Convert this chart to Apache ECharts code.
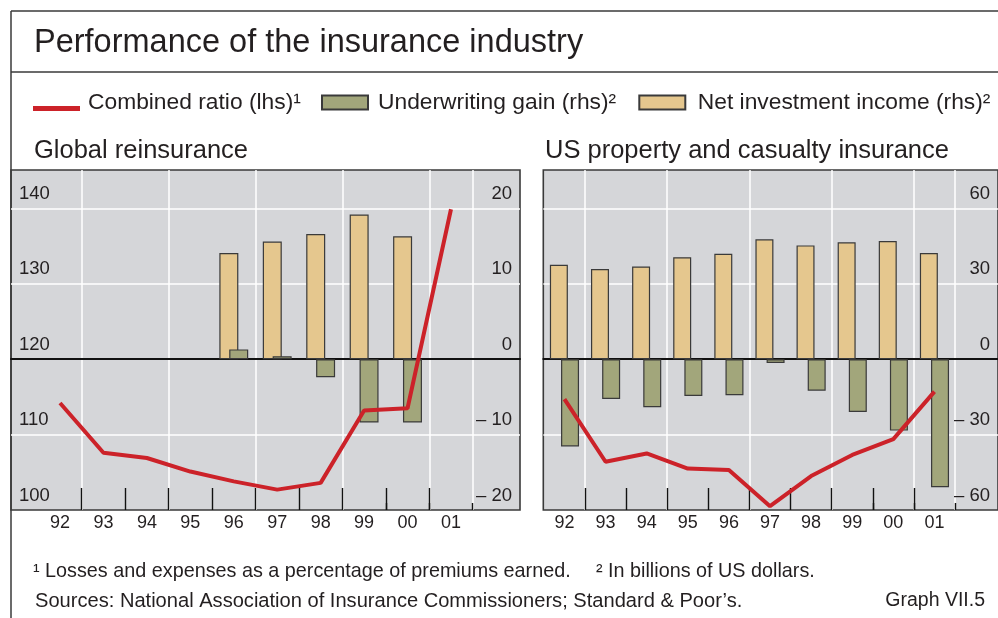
<!DOCTYPE html>
<html>
<head>
<meta charset="utf-8">
<script src="https://cdn.jsdelivr.net/npm/echarts@6/dist/echarts.min.js"></script>
<style>
html,body{margin:0;padding:0;background:#fff;}
#c{width:998px;height:618px;}
</style>
</head>
<body>
<div id="c"></div>
<script>
// ---------- data ----------
const years = ['92','93','94','95','96','97','98','99','00','01'];
const globalRatio = [114.2, 107.6, 106.9, 105.1, 103.8, 102.7, 103.6, 113.2, 113.5, 139.9];
const globalUW   = [null, null, null, null, 1.3, 0.4, -2.4, -8.4, -8.4, null];
const globalNII  = [null, null, null, null, 14.1, 15.6, 16.6, 19.2, 16.3, null];
const usRatio = [114.7, 106.4, 107.5, 105.5, 105.3, 100.5, 104.5, 107.3, 109.4, 115.7];
const usUW    = [-34.7, -15.8, -19.1, -14.6, -14.3, -1.5, -12.5, -21.0, -28.4, -50.9];
const usNII   = [37.6, 35.9, 36.9, 40.6, 42.0, 47.7, 45.3, 46.5, 47.0, 42.3];
const lhsTickValues = [100, 110, 120, 130, 140];
const lhsTickLabels = ['100', '110', '120', '130', '140'];
const globalRhsTickValues = [-20, -10, 0, 10, 20];
const globalRhsTickLabels = ['– 20', '– 10', '0', '10', '20'];
const usRhsTickValues = [-60, -30, 0, 30, 60];
const usRhsTickLabels = ['– 60', '– 30', '0', '30', '60'];

const NAME_RATIO = 'Combined ratio (lhs)¹';
const NAME_UW = 'Underwriting gain (rhs)²';
const NAME_NII = 'Net investment income (rhs)²';

// ---------- style ----------
const FONT = '"Liberation Sans", Arial, sans-serif';
const TXT = '#231f20';
const GRAY = '#d5d6d9';
const RED = '#cc2229';
const OLIVE = '#a2a67b';
const TAN = '#e5c78e';
const EDGE = '#3a3a3a';

function lookup(values, labels) {
  return function (v) {
    for (let i = 0; i < values.length; i++) {
      if (Math.abs(values[i] - v) < 1e-6) return labels[i];
    }
    return '';
  };
}

const TOP = 170, H = 340, TICK = 22;
const frameL = {left: 11, top: TOP, width: 509, height: H};
const dataL = {left: 38.3, top: TOP, width: 434.4, height: H};
const frameR = {left: 543.3, top: TOP, width: 457, height: H};
const dataR = {left: 543.9, top: TOP, width: 411.1, height: H};
const tickL = {left: dataL.left, width: dataL.width, top: TOP + H - TICK, height: TICK};
const tickR = {left: dataR.left, width: dataR.width, top: TOP + H - TICK, height: TICK};

const LHS_MAX = 145.1;

function frameGrid(g) {
  return Object.assign({show: true, backgroundColor: GRAY, borderColor: EDGE, borderWidth: 1.6, containLabel: false}, g);
}
function frameX(gi) {
  return {
    type: 'value', gridIndex: gi, min: 0, max: 1,
    axisLine: {show: true, onZero: true, lineStyle: {color: '#111', width: 2}},
    axisTick: {show: false}, axisLabel: {show: false}, splitLine: {show: false}
  };
}
function dataX(gi) {
  return {
    type: 'category', gridIndex: gi, data: years, boundaryGap: true,
    axisLine: {show: false, onZero: false},
    axisTick: {show: true, inside: true, length: 7, lineStyle: {color: '#111', width: 1.4},
               interval: function (i) { return i >= 8; }},
    splitLine: {show: true, interval: function (i) { return i % 2 === 1; },
                lineStyle: {color: '#ffffff', width: 1.5}},
    axisLabel: {margin: 4, fontSize: 18, color: TXT, fontFamily: FONT}
  };
}
function tickX(gi) {
  return {
    type: 'category', gridIndex: gi, data: years, boundaryGap: true,
    axisLine: {show: false, onZero: false}, axisTick: {show: false}, axisLabel: {show: false},
    splitLine: {show: true, showMinLine: false, showMaxLine: false, interval: 0,
                lineStyle: {color: '#111', width: 1.4}}
  };
}
function labelStyle(extra) {
  return Object.assign({inside: true, margin: 8, fontSize: 18.5, color: TXT, fontFamily: FONT,
    verticalAlign: 'bottom', padding: [0, 0, 5, 0]}, extra);
}

const option = {
  animation: false,
  textStyle: {fontFamily: FONT},
  title: [
    {text: 'Performance of the insurance industry', left: 34, top: 27, padding: 0,
     textStyle: {fontSize: 32.5, fontWeight: 'normal', color: TXT, fontFamily: FONT}},
    {text: 'Global reinsurance', left: 34, top: 137.5, padding: 0,
     textStyle: {fontSize: 25.5, fontWeight: 'normal', color: TXT, fontFamily: FONT}},
    {text: 'US property and casualty insurance', left: 545, top: 137.5, padding: 0,
     textStyle: {fontSize: 25.5, fontWeight: 'normal', color: TXT, fontFamily: FONT}},
    {text: '¹ Losses and expenses as a percentage of premiums earned.', left: 33, top: 562, padding: 0,
     textStyle: {fontSize: 19.8, fontWeight: 'normal', color: TXT, fontFamily: FONT}},
    {text: '² In billions of US dollars.', left: 596, top: 562, padding: 0,
     textStyle: {fontSize: 19.8, fontWeight: 'normal', color: TXT, fontFamily: FONT}},
    {text: 'Sources: National Association of Insurance Commissioners; Standard & Poor’s.', left: 35, top: 591, padding: 0,
     textStyle: {fontSize: 20.1, fontWeight: 'normal', color: TXT, fontFamily: FONT}},
    {text: 'Graph VII.5', right: 13, top: 591, padding: 0,
     textStyle: {fontSize: 19.5, fontWeight: 'normal', color: TXT, fontFamily: FONT}}
  ],
  legend: [
    {data: [{name: NAME_RATIO, icon: 'path://M0,0M0,11L47,11L47,16L0,16Z', itemStyle: {color: RED, borderWidth: 0}}],
     left: 33, top: 91.5, padding: 0, itemWidth: 47, itemHeight: 16, selectedMode: false,
     textStyle: {fontSize: 22.8, color: TXT, fontFamily: FONT, padding: [0, 0, 0, 3]}},
    {data: [{name: NAME_UW, icon: 'rect'}],
     left: 321, top: 91, padding: 0, itemWidth: 46, itemHeight: 14, selectedMode: false,
     textStyle: {fontSize: 22.8, color: TXT, fontFamily: FONT, padding: [0, 0, 0, 5]}},
    {data: [{name: NAME_NII, icon: 'rect'}],
     left: 638.3, top: 91, padding: 0, itemWidth: 46, itemHeight: 14, selectedMode: false,
     textStyle: {fontSize: 22.8, color: TXT, fontFamily: FONT, padding: [0, 0, 0, 7.5]}}
  ],
  graphic: [
    {type: 'line', shape: {x1: 11, y1: 11, x2: 998, y2: 11}, style: {stroke: EDGE, lineWidth: 1.5}},
    {type: 'line', shape: {x1: 11, y1: 72, x2: 998, y2: 72}, style: {stroke: EDGE, lineWidth: 1.5}},
    {type: 'line', shape: {x1: 11, y1: 11, x2: 11, y2: 618}, style: {stroke: EDGE, lineWidth: 1.5}}
  ],
  grid: [
    frameGrid(frameL), Object.assign({show: false}, dataL),
    frameGrid(frameR), Object.assign({show: false}, dataR),
    Object.assign({show: false}, tickL), Object.assign({show: false}, tickR)
  ],
  xAxis: [frameX(0), dataX(1), frameX(2), dataX(3), tickX(4), tickX(5)],
  yAxis: [
    // 0: global rhs (frame)
    {type: 'value', gridIndex: 0, position: 'right', min: -20, max: LHS_MAX - 120, interval: 10,
     axisLine: {show: false}, axisTick: {show: false}, splitLine: {show: false},
     axisLabel: labelStyle({formatter: lookup(globalRhsTickValues, globalRhsTickLabels)})},
    // 1: global lhs (frame)
    {type: 'value', gridIndex: 0, position: 'left', min: 100, max: LHS_MAX, interval: 10,
     axisLine: {show: false}, axisTick: {show: false},
     splitLine: {show: true, showMinLine: false, showMaxLine: false, lineStyle: {color: '#ffffff', width: 1.5}},
     axisLabel: labelStyle({formatter: lookup(lhsTickValues, lhsTickLabels)})},
    // 2: global lhs (data)
    {type: 'value', gridIndex: 1, show: false, min: 100, max: LHS_MAX, splitLine: {show: false}},
    // 3: global rhs (data)
    {type: 'value', gridIndex: 1, show: false, min: -20, max: LHS_MAX - 120, splitLine: {show: false}},
    // 4: US rhs (frame)
    {type: 'value', gridIndex: 2, position: 'right', min: -60, max: (LHS_MAX - 120) * 3, interval: 30,
     axisLine: {show: false}, axisTick: {show: false}, splitLine: {show: false},
     axisLabel: labelStyle({formatter: lookup(usRhsTickValues, usRhsTickLabels)})},
    // 5: US lhs (frame), labels hidden
    {type: 'value', gridIndex: 2, position: 'left', min: 100, max: LHS_MAX, interval: 10,
     axisLine: {show: false}, axisTick: {show: false}, axisLabel: {show: false},
     splitLine: {show: true, showMinLine: false, showMaxLine: false, lineStyle: {color: '#ffffff', width: 1.5}}},
    // 6: US lhs (data)
    {type: 'value', gridIndex: 3, show: false, min: 100, max: LHS_MAX, splitLine: {show: false}},
    // 7: US rhs (data)
    {type: 'value', gridIndex: 3, show: false, min: -60, max: (LHS_MAX - 120) * 3, splitLine: {show: false}},
    // 8, 9: tick-strip helpers
    {type: 'value', gridIndex: 4, show: false, splitLine: {show: false}},
    {type: 'value', gridIndex: 5, show: false, splitLine: {show: false}}
  ],
  series: [
    {name: NAME_NII, type: 'bar', xAxisIndex: 1, yAxisIndex: 3, data: globalNII,
     barWidth: 19, barGap: '-48%', itemStyle: {color: TAN, borderColor: EDGE, borderWidth: 1.2}},
    {name: NAME_UW, type: 'bar', xAxisIndex: 1, yAxisIndex: 3, data: globalUW,
     barWidth: 19, barGap: '-48%', itemStyle: {color: OLIVE, borderColor: EDGE, borderWidth: 1.2}},
    {name: NAME_RATIO, type: 'line', xAxisIndex: 1, yAxisIndex: 2, data: globalRatio, z: 5,
     symbol: 'none', lineStyle: {color: RED, width: 4}, itemStyle: {color: RED}},
    {name: NAME_NII, type: 'bar', xAxisIndex: 3, yAxisIndex: 7, data: usNII,
     barWidth: 18, barGap: '-38%', itemStyle: {color: TAN, borderColor: EDGE, borderWidth: 1.2}},
    {name: NAME_UW, type: 'bar', xAxisIndex: 3, yAxisIndex: 7, data: usUW,
     barWidth: 18, barGap: '-38%', itemStyle: {color: OLIVE, borderColor: EDGE, borderWidth: 1.2}},
    {name: NAME_RATIO, type: 'line', xAxisIndex: 3, yAxisIndex: 6, data: usRatio, z: 5,
     symbol: 'none', lineStyle: {color: RED, width: 4}, itemStyle: {color: RED}}
  ]
};

const chart = echarts.init(document.getElementById('c'), null, {renderer: 'canvas'});
chart.setOption(option);
</script>
</body>
</html>
